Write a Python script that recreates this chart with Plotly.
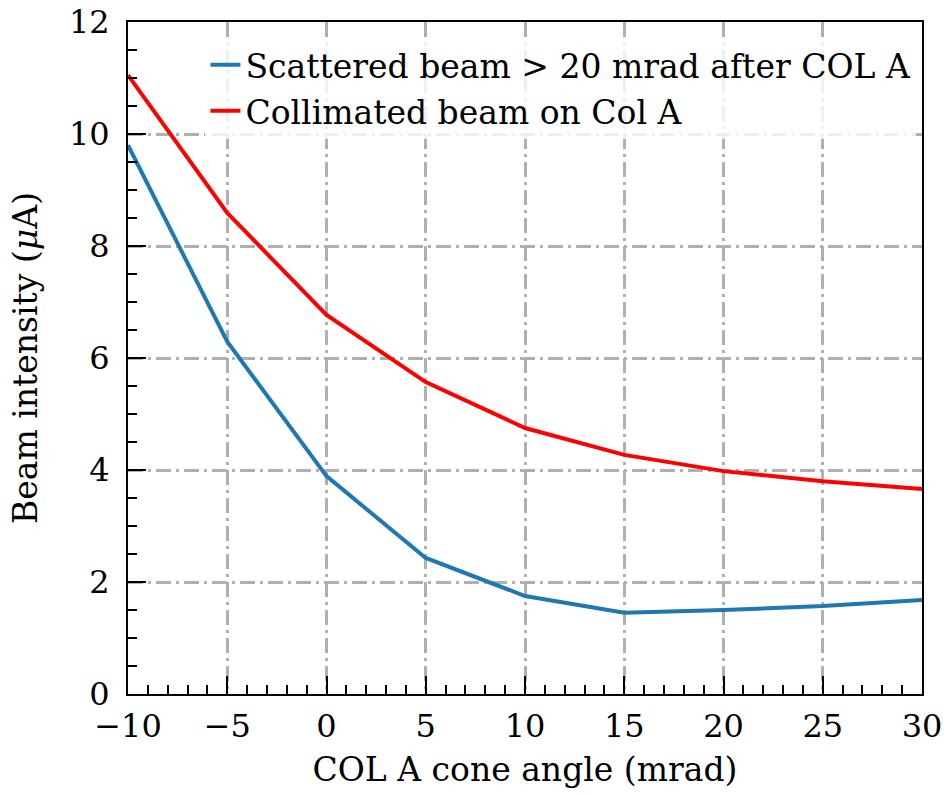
import plotly.graph_objects as go

angles = [-10, -5, 0, 5, 10, 15, 20, 25, 30]
scattered = [9.8, 6.29, 3.89, 2.43, 1.75, 1.45, 1.50, 1.57, 1.68]
collimated = [11.05, 8.59, 6.77, 5.57, 4.75, 4.27, 3.98, 3.80, 3.66]

x_ticks = [-10, -5, 0, 5, 10, 15, 20, 25, 30]
y_ticks = [0, 2, 4, 6, 8, 10, 12]

FONT = "DejaVu Serif"
FS = 32
TFS = 33

fig = go.Figure()
fig.add_trace(go.Scatter(x=angles, y=scattered, mode="lines",
                         name="Scattered beam > 20 mrad after COL A",
                         line=dict(color="#1f77b4", width=4)))
fig.add_trace(go.Scatter(x=angles, y=collimated, mode="lines",
                         name="Collimated beam on Col A",
                         line=dict(color="#ff0000", width=4)))

grid = dict(showgrid=True, gridcolor="#b0b0b0", gridwidth=2.5,
            griddash="15px,5px,3px,5px")
common = dict(showline=True, linecolor="black", linewidth=2, mirror=True,
              ticks="inside", ticklen=18, tickwidth=2, tickcolor="black",
              tickfont=dict(family=FONT, size=FS, color="black"),
              zeroline=False, automargin=False)

fig.update_xaxes(range=[-10, 30], tickvals=x_ticks,
                 minor=dict(dtick=1, ticks="inside", ticklen=9, tickwidth=2,
                            tickcolor="black", showgrid=False),
                 ticklabelstandoff=3,
                 title=dict(text="COL A cone angle (mrad)",
                            font=dict(family=FONT, size=TFS, color="black"),
                            standoff=13),
                 **grid, **common)
fig.update_yaxes(range=[0, 12], tickvals=y_ticks,
                 minor=dict(dtick=0.5, ticks="inside", ticklen=9, tickwidth=2,
                            tickcolor="black", showgrid=False),
                 ticklabelstandoff=10,
                 title=dict(text="Beam intensity (<i>μ</i>A)",
                            font=dict(family=FONT, size=TFS, color="black"),
                            standoff=21),
                 **grid, **common)

fig.update_layout(
    width=948, height=795,
    margin=dict(l=128, r=26, t=22, b=101),
    plot_bgcolor="white", paper_bgcolor="white",
    font=dict(family=FONT, size=FS, color="black"),
    legend=dict(x=0.0975, y=0.978, xanchor="left", yanchor="top",
                bgcolor="rgba(255,255,255,0.8)", borderwidth=0,
                font=dict(family=FONT, size=TFS, color="black"),
                tracegroupgap=0),
)

fig.write_html("out.html")
